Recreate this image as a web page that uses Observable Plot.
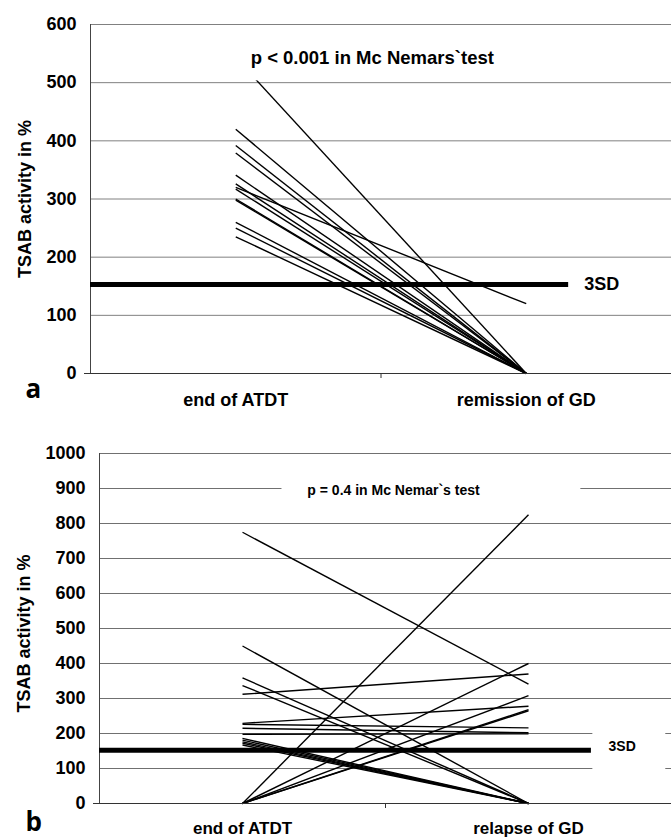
<!DOCTYPE html>
<html>
<head>
<meta charset="utf-8">
<script src="https://cdn.jsdelivr.net/npm/d3@7"></script>
<script src="https://cdn.jsdelivr.net/npm/@observablehq/plot@0.6"></script>
<style>
  html, body { margin: 0; padding: 0; background: #fff; }
  #wrap { width: 671px; height: 840px; overflow: hidden; }
  #wrap > svg, #wrap > div { display: block; }
</style>
</head>
<body>
<div id="wrap"></div>
<script>
// ---------- data ----------
const categoriesA = ["end of ATDT", "remission of GD"];
const categoriesB = ["end of ATDT", "relapse of GD"];
const yTicksA = [0, 100, 200, 300, 400, 500, 600];
const yTicksB = [0, 100, 200, 300, 400, 500, 600, 700, 800, 900, 1000];

// panel a: TSAB at end of ATDT -> at remission
const startA = [543, 420, 392, 379, 341, 326, 320, 317, 300, 298, 260, 250, 235];
const endA   = [0,   0,   0,   0,   0,   0,   120, 0,   0,   0,   0,   0,   0];
const sdA = 153;
const pTextA = "p < 0.001 in Mc Nemars`test";

// panel b: TSAB at end of ATDT -> at relapse
const startB = [775, 450, 359, 337, 312, 229, 226, 215, 198, 186, 181, 176, 172, 167, 0,   0,   0,   0,   0];
const endB   = [341, 0,   0,   0,   370, 278, 216, 202, 199, 0,   0,   0,   0,   0,   825, 400, 308, 268, 265];
const sdB = 152;
const pTextB = "p = 0.4 in Mc Nemar`s test";
const sdLabel = "3SD";
const yLabel = "TSAB activity in %";

// ---------- drawing ----------
const FONT = "'Liberation Sans', Arial, Helvetica, sans-serif";
const LETTER_FONT = "'Open Sans', 'DejaVu Sans', sans-serif";
const pairs = (s, e) => s.map((v, i) => ({id: i, start: v, end: e[i]}));

const panelA = Plot.plot({
  width: 671, height: 420,
  marginTop: 24, marginBottom: 47, marginLeft: 90, marginRight: 0,
  x: {domain: [0.5, 2.5], axis: null},
  y: {domain: [0, 600], axis: null},
  style: {fontFamily: FONT, fontSize: "18px", fontWeight: "bold", color: "black", background: "white", overflow: "visible"},
  marks: [
    Plot.ruleY(yTicksA, {stroke: "#808080", strokeWidth: 1}),
    Plot.link(pairs(startA, endA), {x1: () => 1, x2: () => 2, y1: "start", y2: "end", stroke: "black", strokeWidth: 1.4}),
    // white box behind the p-value text
    Plot.rect([{a: 0.95, b: 2.05, c: 503, d: 588}], {x1: "a", x2: "b", y1: "c", y2: "d", fill: "white"}),
    Plot.ruleX([0.5], {y1: 0, y2: 600, stroke: "#444", strokeWidth: 1}),
    Plot.ruleY([0], {stroke: "#333", strokeWidth: 1}),
    Plot.ruleY([sdA], {x1: 0.5, x2: 2.146, stroke: "black", strokeWidth: 5}),
    Plot.text([sdLabel], {x: () => 2.2, y: () => sdA, text: d => d, textAnchor: "start", fontSize: 18, fontWeight: "bold"}),
    Plot.text([pTextA], {x: () => 1.47, y: () => 543, text: d => d, fontSize: 18.5, fontWeight: "bold"}),
    Plot.text([yLabel], {x: () => 0.276, y: () => 300, rotate: -90, textAnchor: "middle", lineAnchor: "middle", text: d => d, fontSize: 18, fontWeight: "bold"}),
    Plot.text(["a"], {frameAnchor: "bottom-left", dx: -65, dy: 24, textAnchor: "start", lineAnchor: "bottom", text: d => d, fontSize: 26, fontWeight: 700, fontFamily: LETTER_FONT}),
    Plot.axisY(yTicksA, {tickSize: 0, tickPadding: 14, tickFormat: d => String(d), label: null, fontSize: 18, fontWeight: "bold"}),
    Plot.axisY([0], {tickSize: 6, tickFormat: () => "", label: null, stroke: "#333"}),
    Plot.axisX([1.5], {tickSize: 5, tickFormat: () => "", label: null, stroke: "#333"}),
    Plot.axisX([1, 2], {tickSize: 0, tickPadding: 20, tickFormat: d => categoriesA[d - 1], label: null, fontSize: 18, fontWeight: "bold"})
  ]
});

const panelB = Plot.plot({
  width: 671, height: 420,
  marginTop: 33, marginBottom: 37, marginLeft: 99, marginRight: 0,
  x: {domain: [0.5, 2.5], axis: null},
  y: {domain: [0, 1000], axis: null},
  style: {fontFamily: FONT, fontSize: "18px", fontWeight: "bold", color: "black", background: "white", overflow: "visible"},
  marks: [
    Plot.ruleY(yTicksB, {stroke: "#707070", strokeWidth: 1}),
    // white boxes behind the annotations
    Plot.rect([{a: 1.138, b: 2.183, c: 875, d: 925}, {a: 2.225, b: 2.48, c: 90, d: 210}], {x1: "a", x2: "b", y1: "c", y2: "d", fill: "white"}),
    Plot.link(pairs(startB, endB), {x1: () => 1, x2: () => 2, y1: "start", y2: "end", stroke: "black", strokeWidth: 1.4}),
    Plot.ruleX([0.5], {y1: 0, y2: 1000, stroke: "#444", strokeWidth: 1}),
    Plot.ruleY([0], {stroke: "#333", strokeWidth: 1}),
    Plot.ruleY([sdB], {x1: 0.5, x2: 2.22, stroke: "black", strokeWidth: 5}),
    Plot.text([sdLabel], {x: () => 2.28, y: () => 162, text: d => d, textAnchor: "start", fontSize: 14, fontWeight: "bold"}),
    Plot.text([pTextB], {x: () => 1.528, y: () => 893, text: d => d, fontSize: 14, fontWeight: "bold"}),
    Plot.text([yLabel], {x: () => 0.238, y: () => 486, rotate: -90, textAnchor: "middle", lineAnchor: "middle", text: d => d, fontSize: 18, fontWeight: "bold"}),
    Plot.text(["b"], {frameAnchor: "bottom-left", dx: -74, dy: 27, textAnchor: "start", lineAnchor: "bottom", text: d => d, fontSize: 26, fontWeight: 700, fontFamily: LETTER_FONT}),
    Plot.axisY(yTicksB, {tickSize: 0, tickPadding: 14, tickFormat: d => String(d), label: null, fontSize: 18, fontWeight: "bold"}),
    Plot.axisY([0], {tickSize: 6, tickFormat: () => "", label: null, stroke: "#333"}),
    Plot.axisX([1.5], {tickSize: 5, tickFormat: () => "", label: null, stroke: "#333"}),
    Plot.axisX([1, 2], {tickSize: 0, tickPadding: 18, tickFormat: d => categoriesB[d - 1], label: null, fontSize: 17, fontWeight: "bold"})
  ]
});

const wrap = document.getElementById("wrap");
wrap.appendChild(panelA);
wrap.appendChild(panelB);
</script>
</body>
</html>
